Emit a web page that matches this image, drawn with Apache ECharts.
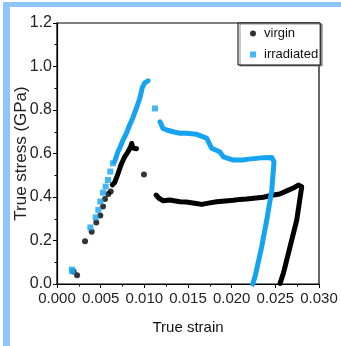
<!DOCTYPE html>
<html>
<head>
<meta charset="utf-8">
<script src="https://cdn.jsdelivr.net/npm/echarts@6/dist/echarts.min.js"></script>
<style>
  html, body { margin: 0; padding: 0; background: #fff; }
  #chart { width: 341px; height: 346px; }
</style>
</head>
<body>
<div id="chart"></div>
<script>
// strain, stress (GPa)
const virginSparse = [[0.0019, 0.058], [0.0023, 0.040], [0.00321, 0.197], [0.00397, 0.240], [0.0045, 0.283],
  [0.00496, 0.315], [0.00527, 0.356], [0.0055, 0.391], [0.00588, 0.414], [0.00615, 0.425], [0.00996, 0.504]];
const virginLoad = [[0.00634, 0.456], [0.0066, 0.466], [0.0070, 0.509], [0.00737, 0.552], [0.00775, 0.585],
  [0.00813, 0.608], [0.00844, 0.631], [0.00855, 0.646], [0.0087, 0.625], [0.0091, 0.622]];
const virginFlow = [[0.01134, 0.409], [0.01168, 0.394], [0.01217, 0.383], [0.0129, 0.386], [0.01408, 0.378],
  [0.0148, 0.377], [0.01595, 0.370], [0.01657, 0.366], [0.0175, 0.373], [0.01828, 0.378], [0.0202, 0.385],
  [0.02095, 0.389], [0.02168, 0.391], [0.02362, 0.399], [0.02477, 0.409], [0.0255, 0.414], [0.0263, 0.428],
  [0.0270, 0.440], [0.02763, 0.455], [0.02802, 0.447], [0.02745, 0.294], [0.02668, 0.171], [0.02592, 0.049],
  [0.02554, 0.003]];

const irrSparse = [[0.0017, 0.066], [0.00176, 0.058], [0.00382, 0.260], [0.00443, 0.306], [0.00473, 0.341],
  [0.00496, 0.379], [0.00527, 0.420], [0.00557, 0.448], [0.00584, 0.478], [0.0061, 0.517], [0.00641, 0.555],
  [0.01122, 0.807]];
const irrLoad = [[0.0066, 0.563], [0.00698, 0.608], [0.00725, 0.631], [0.00756, 0.662], [0.00794, 0.692],
  [0.00832, 0.731], [0.0087, 0.766], [0.00908, 0.807], [0.00947, 0.853], [0.00977, 0.903], [0.01004, 0.925],
  [0.01042, 0.934]];
const irrFlow = [[0.0118, 0.746], [0.01214, 0.715], [0.01256, 0.708], [0.01328, 0.700], [0.01408, 0.693],
  [0.0148, 0.693], [0.016, 0.688], [0.01653, 0.680], [0.01715, 0.670], [0.0177, 0.624], [0.01863, 0.608],
  [0.01905, 0.585], [0.0202, 0.570], [0.0213, 0.570], [0.02173, 0.573], [0.02362, 0.581], [0.02459, 0.582],
  [0.02485, 0.562], [0.02459, 0.432], [0.02402, 0.294], [0.02344, 0.171], [0.02268, 0.034], [0.02241, 0]];

const BLACK = '#000000';
const BLUE = '#16a4f2';
const font = 'Liberation Sans, Arial, sans-serif';

const chart = echarts.init(document.getElementById('chart'), null, { renderer: 'canvas' });

const lineSeries = (name, data, color) => ({
  name,
  type: 'line',
  data,
  showSymbol: false,
  symbol: 'none',
  lineStyle: { color, width: 5, cap: 'round', join: 'round' },
  itemStyle: { color },
  silent: true,
});

chart.setOption({
  animation: false,
  backgroundColor: '#ffffff',
  graphic: [
    { type: 'rect', shape: { x: 3, y: 2, width: 338, height: 5 }, style: { fill: '#8ec5fa' } },
    { type: 'rect', shape: { x: 3, y: 2, width: 7, height: 344, r: [3, 0, 0, 0] }, style: { fill: '#8ec5fa' } },
  ],
  grid: {
    left: 57, right: 22, top: 23, bottom: 62,
    containLabel: false,
    outerBoundsMode: 'none',
    show: true, borderColor: '#000', borderWidth: 1.2, backgroundColor: 'transparent',
  },
  legend: {
    data: [{ name: 'virgin', icon: 'circle' }, { name: 'irradiated', icon: 'rect' }],
    orient: 'vertical',
    left: 238, top: 23,
    itemWidth: 6, itemHeight: 6, itemGap: 8,
    padding: [4, 2, 4, 12],
    borderColor: '#000', borderWidth: 1,
    backgroundColor: '#fff',
    shadowColor: 'rgba(120,120,120,0.8)', shadowOffsetX: 2, shadowOffsetY: 1, shadowBlur: 0,
    textStyle: { fontFamily: font, fontSize: 13, color: '#111', padding: [0, 0, 0, 3] },
    selectedMode: false,
  },
  xAxis: {
    type: 'value',
    min: 0, max: 0.03, interval: 0.005,
    name: 'True strain',
    nameLocation: 'middle',
    nameGap: 36,
    nameMoveOverlap: false,
    nameTextStyle: { fontFamily: font, fontSize: 15, color: '#111' },
    axisLine: { show: true, onZero: false, lineStyle: { color: '#000', width: 1.2 } },
    axisTick: { show: true, inside: false, length: 4, lineStyle: { color: '#000' } },
    minorTick: { show: true, splitNumber: 2, length: 2.5, lineStyle: { color: '#000' } },
    splitLine: { show: false },
    axisLabel: {
      margin: 7, fontFamily: font, fontSize: 15, color: '#222',
      showMinLabel: true, showMaxLabel: true, hideOverlap: false,
      formatter: (v) => v.toFixed(3),
    },
  },
  yAxis: {
    type: 'value',
    min: 0, max: 1.2, interval: 0.2,
    name: 'True stress (GPa)',
    nameLocation: 'middle',
    nameGap: 27,
    nameMoveOverlap: false,
    nameTextStyle: { fontFamily: font, fontSize: 17, color: '#222' },
    axisLine: { show: true, onZero: false, lineStyle: { color: '#000', width: 1.2 } },
    axisTick: { show: true, inside: false, length: 4, lineStyle: { color: '#000' } },
    minorTick: { show: true, splitNumber: 2, length: 2.5, lineStyle: { color: '#000' } },
    splitLine: { show: false },
    axisLabel: {
      margin: 5, fontFamily: font, fontSize: 16, color: '#222',
      showMinLabel: true, showMaxLabel: true,
      formatter: (v) => v.toFixed(1),
    },
  },
  series: [
    {
      name: 'virgin', type: 'scatter', data: virginSparse,
      symbol: 'circle', symbolSize: 6, itemStyle: { color: BLACK },
    },
    lineSeries('virgin', virginLoad, BLACK),
    lineSeries('virgin', virginFlow, BLACK),
    {
      name: 'irradiated', type: 'scatter', data: irrSparse,
      symbol: 'rect', symbolSize: 6, itemStyle: { color: BLUE },
    },
    lineSeries('irradiated', irrLoad, BLUE),
    lineSeries('irradiated', irrFlow, BLUE),
  ],
});
</script>
</body>
</html>
